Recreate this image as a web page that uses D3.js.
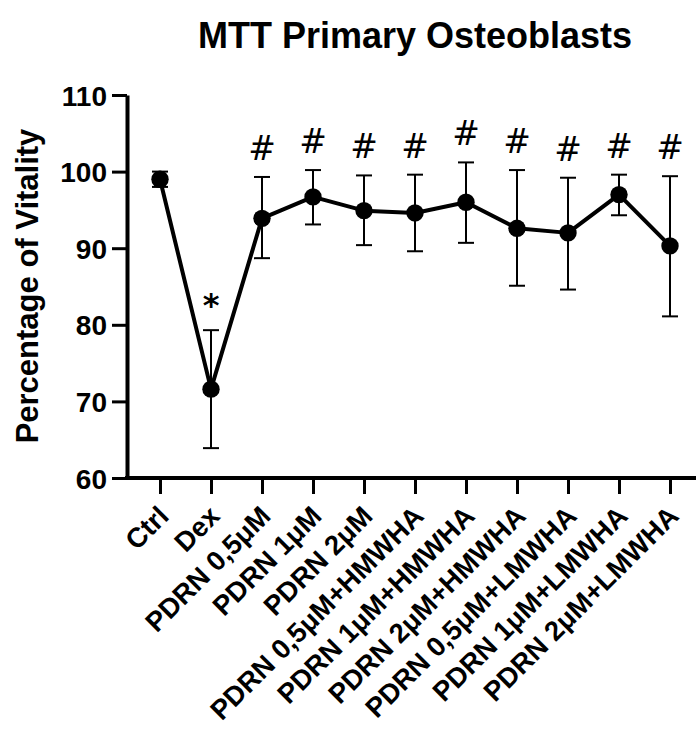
<!DOCTYPE html>
<html lang="en">
<head>
    <meta charset="UTF-8">
    <title>MTT Primary Osteoblasts</title>
    <style>
        body { margin: 0; background: #fff; }
        svg text { font-family: "Liberation Sans", Arial, sans-serif; font-weight: bold; fill: #000; }
        .axis path, .axis line { stroke: #000; }
        .sig { font-family: "DejaVu Sans", sans-serif !important; font-weight: normal !important; }
        .sig.star { font-weight: bold !important; }
    </style>
</head>
<body>
    <script src="https://d3js.org/d3.v7.min.js"></script>
    <script>
        // Data
        const groups = ["Ctrl", "Dex", "PDRN 0,5μM", "PDRN 1μM", "PDRN 2μM",
            "PDRN 0,5μM+HMWHA", "PDRN 1μM+HMWHA", "PDRN 2μM+HMWHA",
            "PDRN 0,5μM+LMWHA", "PDRN 1μM+LMWHA", "PDRN 2μM+LMWHA"];
        const means = [99.0, 71.6, 93.9, 96.7, 94.9, 94.6, 96.0, 92.6, 92.0, 97.0, 90.3];
        const upper = [100.0, 79.3, 99.3, 100.2, 99.5, 99.6, 101.2, 100.2, 99.2, 99.6, 99.4];
        const lower = [98.0, 63.9, 88.7, 93.1, 90.4, 89.6, 90.7, 85.1, 84.6, 94.3, 81.1];
        const marks = ["", "*", "#", "#", "#", "#", "#", "#", "#", "#", "#"];
        const yTicks = [60, 70, 80, 90, 100, 110];

        const width = 696, height = 732;

        const svg = d3.select("body").append("svg")
            .attr("width", width)
            .attr("height", height);

        const x = d3.scalePoint().domain(groups).range([160, 670]);
        const y = d3.scaleLinear().domain([60, 110]).range([478, 95]);

        const rows = groups.map((g, i) => ({g, m: means[i], hi: upper[i], lo: lower[i], mark: marks[i]}));

        // title
        svg.append("text")
            .attr("x", 415)
            .attr("y", 48)
            .attr("text-anchor", "middle")
            .style("font-size", "36px")
            .text("MTT Primary Osteoblasts");

        // y axis
        const yAxis = svg.append("g")
            .attr("class", "axis")
            .attr("transform", "translate(127,0)")
            .call(d3.axisLeft(y).tickValues(yTicks).tickSize(15).tickSizeOuter(0).tickPadding(5));
        yAxis.select(".domain").attr("stroke-width", 4);
        yAxis.selectAll(".tick line").attr("stroke-width", 3);
        yAxis.selectAll(".tick text").style("font-size", "28px").attr("dy", "0.36em");

        svg.append("text")
            .attr("transform", "translate(38,286) rotate(-90)")
            .attr("text-anchor", "middle")
            .style("font-size", "31px")
            .text("Percentage of Vitality");

        // x axis
        const xAxis = svg.append("g")
            .attr("class", "axis")
            .attr("transform", `translate(0,${y(60)})`)
            .call(d3.axisBottom(x).tickSize(16).tickSizeOuter(0));
        xAxis.select(".domain")
            .attr("d", "M125,0H696")
            .attr("stroke-width", 4);
        xAxis.selectAll(".tick line").attr("stroke-width", 3);
        xAxis.selectAll(".tick text")
            .style("font-size", "27.5px")
            .attr("text-anchor", "end")
            .attr("y", 0)
            .attr("dy", "0.35em")
            .attr("transform", "translate(3,33) rotate(-45)");

        // error bars
        const err = svg.append("g").attr("stroke", "#000").attr("stroke-width", 2);
        err.selectAll("line.v").data(rows).join("line")
            .attr("x1", d => x(d.g)).attr("x2", d => x(d.g))
            .attr("y1", d => y(d.hi)).attr("y2", d => y(d.lo));
        err.selectAll("line.top").data(rows).join("line")
            .attr("class", "top")
            .attr("x1", d => x(d.g) - 8).attr("x2", d => x(d.g) + 8)
            .attr("y1", d => y(d.hi)).attr("y2", d => y(d.hi));
        err.selectAll("line.bot").data(rows).join("line")
            .attr("class", "bot")
            .attr("x1", d => x(d.g) - 8).attr("x2", d => x(d.g) + 8)
            .attr("y1", d => y(d.lo)).attr("y2", d => y(d.lo));

        // mean line
        const line = d3.line().x(d => x(d.g)).y(d => y(d.m));
        svg.append("path")
            .datum(rows)
            .attr("fill", "none")
            .attr("stroke", "#000")
            .attr("stroke-width", 4)
            .attr("stroke-linejoin", "round")
            .attr("d", line);

        svg.append("g").selectAll("circle").data(rows).join("circle")
            .attr("cx", d => x(d.g))
            .attr("cy", d => y(d.m))
            .attr("r", 8.7)
            .attr("fill", "#000");

        // significance marks, placed so glyph bottom sits above the bar cap
        svg.append("g").selectAll("text").data(rows.filter(d => d.mark)).join("text")
            .attr("class", d => d.mark === "*" ? "sig star" : "sig")
            .attr("x", d => x(d.g))
            .attr("y", d => y(d.hi))
            .attr("text-anchor", "middle")
            .style("font-size", d => d.mark === "*" ? "32px" : "33px")
            .text(d => d.mark)
            .each(function(d) {
                const b = this.getBBox();
                const gap = d.mark === "*" ? 6 : 9;
                const shift = (y(d.hi) - gap) - (b.y + b.height);
                d3.select(this).attr("y", y(d.hi) + shift);
            });
    </script>
</body>
</html>
